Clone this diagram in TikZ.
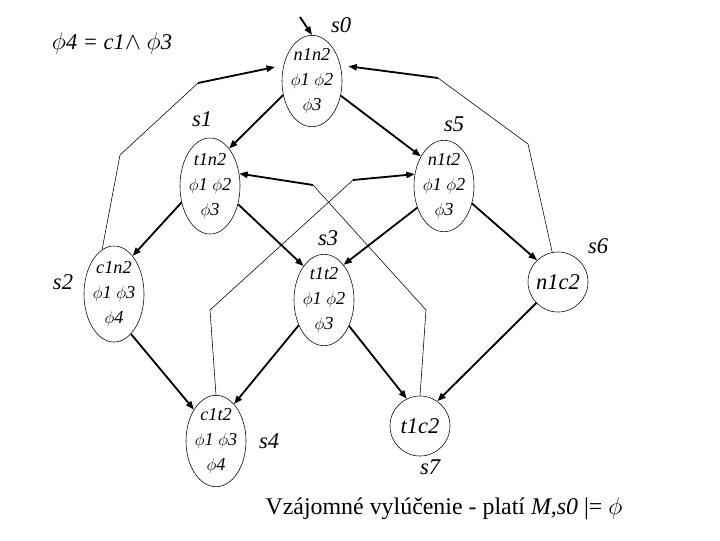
\documentclass[tikz,border=0pt]{standalone}
\usepackage{fontspec}
\setmainfont{Liberation Serif}
\usetikzlibrary{shapes.geometric, arrows.meta, positioning}

\begin{document}
\begin{tikzpicture}[x=0.025cm, y=-0.025cm,
  st/.style={ellipse, draw, thin, minimum width=1.5cm, minimum height=2.25cm,
             inner sep=0pt, align=center, font=\fontsize{13}{17.5}\selectfont\itshape},
  ring/.style={circle, draw, thin, minimum size=1.5cm, inner sep=0pt,
               font=\fontsize{16}{18}\selectfont\itshape},
  lbl/.style={font=\fontsize{16}{18}\selectfont\itshape},
  arr/.style={-{Triangle[length=6pt, width=4.5pt]}, line width=1.3pt},
  ret/.style={thin}
]
  \useasboundingbox (0,0) rectangle (720,540);
  \node[lbl] (phidef) at (112,43) {$\phi$4 = c1$\wedge$ $\phi$3};
  \node[st] (n1n2) at (312,81)  {n1n2\\$\phi$1 $\phi$2\\$\phi$3};
  \node[st, minimum height=2.4cm] (t1n2) at (210,186) {t1n2\\$\phi$1 $\phi$2\\$\phi$3};
  \node[st, minimum height=2.1cm] (n1t2) at (444,186) {n1t2\\$\phi$1 $\phi$2\\$\phi$3};
  \node[st, minimum height=2.4cm] (c1n2) at (114,294) {c1n2\\$\phi$1 $\phi$3\\$\phi$4};
  \node[st, minimum height=2.1cm] (t1t2) at (324,300) {t1t2\\$\phi$1 $\phi$2\\$\phi$3};
  \node[st] (c1t2) at (216,441) {c1t2\\$\phi$1 $\phi$3\\$\phi$4};
  \node[ring] (n1c2) at (558,282) {n1c2};
  \node[ring] (t1c2) at (420,426) {t1c2};
  \node[lbl] (l0) at (341,25)  {s0};
  \node[lbl] (l1) at (202,119) {s1};
  \node[lbl] (l2) at (63,282)  {s2};
  \node[lbl] (l3) at (328,238) {s3};
  \node[lbl] (l4) at (269,441) {s4};
  \node[lbl] (l5) at (454,124) {s5};
  \node[lbl] (l6) at (598,246) {s6};
  \node[lbl] (l7) at (430,467) {s7};
  \node[font=\fontsize{17}{19}\selectfont] (cap) at (444,509)
        {Vzájomné vylúčenie - platí \textit{M,s0} \textbar= $\phi$};
  \coordinate (init) at (300,17);
  \coordinate (b1) at (120,155);
  \coordinate (b2) at (198,83);
  \coordinate (b3) at (528,144);
  \coordinate (b4) at (438,78);
  \coordinate (b5) at (210,310);
  \coordinate (b6) at (353,180);
  \coordinate (b7) at (426,310);
  \coordinate (b8) at (313,185);
  \draw[arr] (init) -- (n1n2.90);
  \draw[arr] (n1n2.206) -- (t1n2.63);
  \draw[arr] (n1n2.333) -- (n1t2.128);
  \draw[arr] (t1n2.210) -- (c1n2.64);
  \draw[arr] (t1n2.327) -- (t1t2.121);
  \draw[arr] (n1t2.219) -- (t1t2.61);
  \draw[arr] (n1t2.328) -- (n1c2.134);
  \draw[arr] (c1n2.293) -- (c1t2.125);
  \draw[arr] (t1t2.225) -- (c1t2.64);
  \draw[arr] (t1t2.314) -- (t1c2.116);
  \draw[arr] (n1c2.224) -- (t1c2.55);
  \draw[ret] (c1n2.105) -- (b1) -- (b2);
  \draw[arr, shorten >=0.22cm] (b2) -- (n1n2.151);
  \draw[ret] (n1c2.101) -- (b3) -- (b4);
  \draw[arr, shorten >=0.2cm] (b4) -- (n1n2.29);
  \draw[ret] (c1t2.90) -- (b5) -- (b6);
  \draw[arr] (b6) -- (n1t2.158);
  \draw[ret] (t1c2.90) -- (b7) -- (b8);
  \draw[arr] (b8) -- (t1n2.23);
\end{tikzpicture}
\end{document}
